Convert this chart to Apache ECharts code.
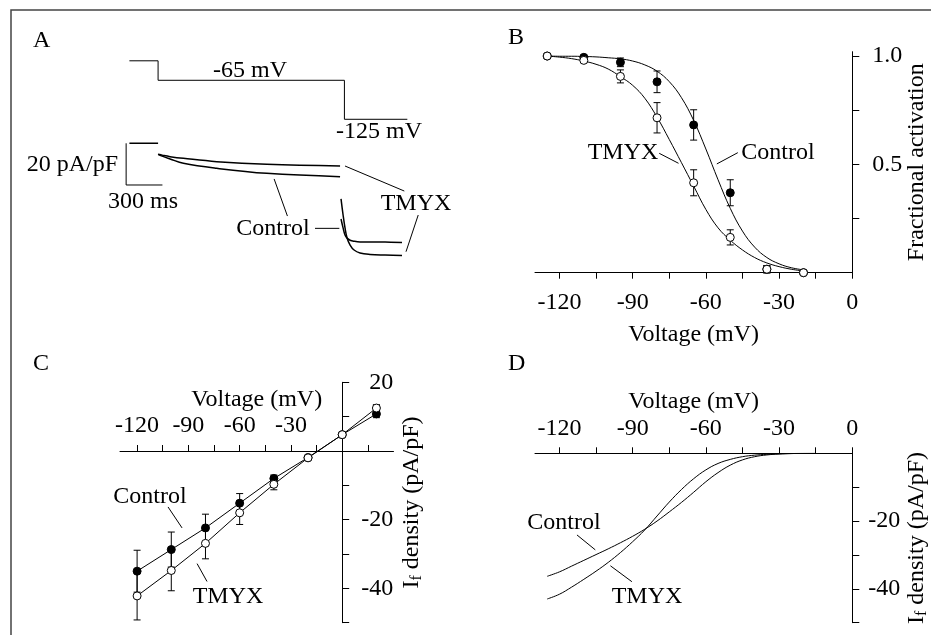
<!DOCTYPE html>
<html>
<head>
<meta charset="utf-8">
<script src="https://cdn.jsdelivr.net/npm/echarts@6/dist/echarts.min.js"></script>
<style>
html, body { margin: 0; padding: 0; background: #fff; }
#main { width: 931px; height: 635px; }
</style>
</head>
<body>
<div id="main"></div>
<script>
// ---- panel A: voltage protocol and current traces (time in ms, current in pA/pF)
const volTime = [-237, 0, 0, 1540, 1540, 2060];
const volMv = [-35, -35, -65, -65, -125, -125];
const preTime = [-237, 0];
const preCur = [0, 0];
const stepTime = [0, 40, 99, 209, 485, 898, 1504];
const ctlStep = [-5.3, -6.3, -7.5, -9.6, -12.0, -14.4, -16.0];
const tmyxStep = [-5.3, -5.8, -6.4, -7.2, -8.8, -10.1, -10.9];
const tailTime = [1512, 1529, 1545, 1562, 1587, 1620, 1669, 1752, 1876, 2016];
const ctlTail = [-36.3, -40.6, -44.0, -45.5, -46.5, -47.0, -47.3, -47.3, -47.4, -47.6];
const tmyxTail = [-26.7, -34.4, -40.6, -45.4, -48.8, -51.2, -52.6, -53.3, -53.6, -53.8];
const barTime = [-264, -264, 36];   // 300 ms
const barCur = [0, -20, -20];       // 20 pA/pF

// ---- panel B: fractional activation
const bPtV = [-125, -110, -95, -80, -65, -50, -35, -20];
const bCtl = [1.0, 0.994, 0.971, 0.881, 0.682, 0.369, 0.016, 0.0];
const bCtlErr = [0, 0.01, 0.02, 0.05, 0.07, 0.06, 0.017, 0];
const bTmyx = [1.0, 0.98, 0.906, 0.715, 0.415, 0.163, 0.016, 0.0];
const bTmyxErr = [0, 0.01, 0.03, 0.07, 0.06, 0.035, 0.017, 0];
const bFitV = [-125, -120, -115, -110, -105, -100, -95, -90, -85, -80, -75, -70, -65, -60, -55, -50, -45, -40, -35, -30, -25, -20];
const bCtlFit = [1.0, 0.999, 0.999, 0.998, 0.996, 0.992, 0.987, 0.977, 0.959, 0.930, 0.882, 0.808, 0.703, 0.571, 0.429, 0.297, 0.192, 0.118, 0.070, 0.041, 0.023, 0.013];
const bTmyxFit = [1.0, 0.995, 0.988, 0.977, 0.962, 0.940, 0.905, 0.865, 0.805, 0.718, 0.615, 0.508, 0.400, 0.292, 0.207, 0.150, 0.105, 0.070, 0.045, 0.028, 0.016, 0.008];

// ---- panel C: I-V of fully activated current
const cV = [-120, -100, -80, -60, -40, -20, 0, 20];
const cCtl = [-35.0, -28.7, -22.4, -15.2, -8.0, -1.9, 4.75, 10.8];
const cCtlErr = [6.1, 5.1, 4.0, 2.8, 1.0, 0.5, 0.5, 1.1];
const cTmyx = [-42.2, -34.8, -26.9, -18.0, -9.7, -2.0, 4.75, 12.5];
const cTmyxErr = [7.0, 5.9, 4.5, 3.4, 1.6, 0.5, 0.5, 1.0];

// ---- panel D: steady-state current
const dV = [-125, -120, -115, -110, -105, -100, -95, -90, -85, -80, -75, -70, -65, -60, -55, -50, -45, -40, -35, -30, -25, -20, -15];
const dCtl = [-36.3, -35.0, -33.3, -31.6, -29.9, -28.2, -26.4, -24.5, -22.4, -20.0, -17.3, -14.5, -11.5, -8.4, -5.7, -3.5, -1.95, -1.0, -0.48, -0.21, -0.08, -0.02, 0];
const dTmyx = [-43.0, -41.6, -39.5, -37.2, -34.8, -32.2, -29.3, -26.1, -22.6, -18.5, -14.4, -10.7, -7.5, -4.9, -3.0, -1.8, -1.0, -0.55, -0.3, -0.15, -0.07, -0.03, 0];

// ticks
const vTicks = [-120, -105, -90, -75, -60, -45, -30, -15, 0];
const vLabels = [-120, -90, -60, -30, 0];
const cTicksX = [-120, -105, -90, -75, -60, -45, -30, -15, 15];
const cLabelsX = [-120, -90, -60, -30];
const bTicksY = [0.25, 0.5, 0.75, 1.0];
const bLabelsY = [0.5, 1.0];
const cTicksY = [20, 10, -10, -20, -30, -40, -50];
const cLabelsY = [20, -20, -40];
const dTicksY = [-10, -20, -30, -40, -50];
const dLabelsY = [-20, -40];

// leader lines for labels [x, y] in data units of each panel
const aLeadTmyx1 = [[1545, -10.9], [2035, -22.9]];
const aLeadTmyx2 = [[2150, -34.4], [2049, -52.0]];
const aLeadCtl1 = [[959, -17.1], [1069, -34.9]];
const aLeadCtl2 = [[1297, -40.8], [1498, -40.8]];
const bLeadTmyx = [[-79.1, 0.551], [-71.2, 0.505]];
const bLeadCtl = [[-46.9, 0.554], [-55.5, 0.502]];
const cLeadCtl = [[-101.9, -16.3], [-93.7, -22.4]];
const cLeadTmyx = [[-84.9, -32.8], [-79.1, -38.0]];
const dLeadCtl = [[-112.8, -24.1], [-105.3, -28.5]];
const dLeadTmyx = [[-99.1, -33.2], [-90.3, -37.9]];

const F = "'Liberation Serif', 'Times New Roman', serif";
const FS = 24;
const zip = (a, b) => a.map((v, i) => [v, b[i]]);

function plainLine(xi, yi, data, w, smooth) {
  return { type: 'line', xAxisIndex: xi, yAxisIndex: yi, data: data, symbol: 'none',
    smooth: smooth || false, lineStyle: { color: '#000', width: w || 1 }, z: 3, silent: true };
}

function errSeries(xi, yi, xs, ys, es) {
  return {
    type: 'custom', xAxisIndex: xi, yAxisIndex: yi, z: 2, silent: true, clip: false,
    data: xs.map((x, i) => [x, ys[i] - es[i], ys[i] + es[i]]).filter(d => d[2] > d[1]),
    encode: { x: 0, y: [1, 2] },
    renderItem: function (params, api) {
      const t = api.coord([api.value(0), api.value(2)]);
      const b = api.coord([api.value(0), api.value(1)]);
      const w = 3.5, st = { stroke: '#000', lineWidth: 1 };
      return { type: 'group', children: [
        { type: 'line', shape: { x1: t[0], y1: t[1], x2: b[0], y2: b[1] }, style: st },
        { type: 'line', shape: { x1: t[0] - w, y1: t[1], x2: t[0] + w, y2: t[1] }, style: st },
        { type: 'line', shape: { x1: b[0] - w, y1: b[1], x2: b[0] + w, y2: b[1] }, style: st }
      ] };
    }
  };
}

function points(xi, yi, data, filled, z, withLine) {
  return {
    type: withLine ? 'line' : 'scatter', xAxisIndex: xi, yAxisIndex: yi, data: data,
    symbol: 'circle', symbolSize: 8, showAllSymbol: true, z: z, silent: true, clip: false,
    lineStyle: { color: '#000', width: 1 },
    itemStyle: filled ? { color: '#000', borderColor: '#000', borderWidth: 1, opacity: 1 }
                      : { color: '#fff', borderColor: '#000', borderWidth: 1, opacity: 1 }
  };
}

function txt(s, x, y, align) {
  return { type: 'text', x: x, y: y, z: 100, silent: true,
    style: { text: s, font: FS + 'px ' + F, fill: '#000',
      textAlign: align || 'center', textVerticalAlign: 'middle',
      align: align || 'center', verticalAlign: 'middle' } };
}

const lbl = { fontFamily: F, fontSize: FS, color: '#000' };
const axLine = { show: true, onZero: false, lineStyle: { color: '#000', width: 1 } };
const ifName = '{i|I}{s|f}{i| density (pA/pF)}';
const ifRich = { i: { fontFamily: F, fontSize: FS, color: '#000' },
                 s: { fontFamily: F, fontSize: 16, color: '#000', verticalAlign: 'bottom', padding: [10, 0, 0, 0] } };

function hidden(gi, min, max) {
  return { type: 'value', gridIndex: gi, min: min, max: max, show: false, splitLine: { show: false } };
}

function voltAxis(gi, pos, max, ticks, labels, margin, gap) {
  return {
    type: 'value', gridIndex: gi, position: pos, min: -130, max: max,
    splitLine: { show: false }, axisLine: axLine,
    axisTick: { show: true, inside: false, customValues: ticks, length: 6, lineStyle: { color: '#000' } },
    axisLabel: Object.assign({ customValues: labels, margin: margin, formatter: v => String(v) }, lbl),
    name: 'Voltage (mV)', nameLocation: 'middle', nameGap: gap, nameMoveOverlap: false,
    nameTextStyle: { fontFamily: F, fontSize: FS, color: '#000' }
  };
}

function currAxis(gi, min, max, ticks, labels, lab, gap, name) {
  return {
    type: 'value', gridIndex: gi, position: 'right', min: min, max: max,
    splitLine: { show: false }, axisLine: axLine,
    axisTick: { show: true, inside: false, customValues: ticks, length: 7, lineStyle: { color: '#000' } },
    axisLabel: Object.assign({ customValues: labels }, lab, lbl),
    name: name, nameLocation: 'middle', nameRotate: 90, nameGap: gap, nameMoveOverlap: false,
    nameTextStyle: name === ifName ? { rich: ifRich } : { fontFamily: F, fontSize: FS, color: '#000' }
  };
}

const chart = echarts.init(document.getElementById('main'), null, { renderer: 'canvas' });
chart.setOption({
  animation: false,
  backgroundColor: '#fff',
  grid: [
    { left: 100, top: 39.05, width: 340, height: 260.6, outerBoundsMode: 'none' },   // 0 A
    { left: 535, top: 51.7, width: 317.3, height: 221, outerBoundsMode: 'none' },    // 1 B
    { left: 120, top: 382.3, width: 273.5, height: 240.4, outerBoundsMode: 'none' }, // 2 C data
    { left: 120, top: 451.0, width: 273.5, height: 171.7, outerBoundsMode: 'none' }, // 3 C x axis
    { left: 120, top: 382.3, width: 222.2, height: 240.4, outerBoundsMode: 'none' }, // 4 C y axis
    { left: 535, top: 453.3, width: 317.3, height: 169.4, outerBoundsMode: 'none' }  // 5 D
  ],
  xAxis: [
    hidden(0, -480, 2330),
    voltAxis(1, 'bottom', 0, vTicks, vLabels, 18, 50),
    hidden(2, -130, 30),
    voltAxis(3, 'top', 30, cTicksX, cLabelsX, 13, 39),
    hidden(4, -130, 0),
    voltAxis(5, 'top', 0, vTicks, vLabels, 13, 40)
  ],
  yAxis: [
    hidden(0, -75, 50),
    hidden(0, -402.5, -1.54),
    currAxis(1, 0, 1.02, bTicksY, bLabelsY, { margin: 20, formatter: v => v.toFixed(1) }, 52, 'Fractional activation'),
    hidden(2, -50, 20),
    hidden(3, -50, 0),
    currAxis(4, -50, 20, cTicksY, cLabelsY, { margin: 51, align: 'right', formatter: v => String(v) }, 57, ifName),
    currAxis(5, -50, 0, dTicksY, dLabelsY, { margin: 16, formatter: v => String(v) }, 51, ifName)
  ],
  series: [
    // A
    plainLine(0, 1, zip(volTime, volMv), 1),
    plainLine(0, 0, zip(preTime, preCur), 1.5),
    plainLine(0, 0, zip(stepTime, ctlStep), 1.5, 0.4),
    plainLine(0, 0, zip(stepTime, tmyxStep), 1.5, 0.4),
    plainLine(0, 0, zip(tailTime, ctlTail), 1.5, 0.4),
    plainLine(0, 0, zip(tailTime, tmyxTail), 1.5, 0.4),
    plainLine(0, 0, zip(barTime, barCur), 1),
    plainLine(0, 0, aLeadTmyx1, 1), plainLine(0, 0, aLeadTmyx2, 1),
    plainLine(0, 0, aLeadCtl1, 1), plainLine(0, 0, aLeadCtl2, 1),
    // B
    errSeries(1, 2, bPtV, bCtl, bCtlErr),
    errSeries(1, 2, bPtV, bTmyx, bTmyxErr),
    plainLine(1, 2, zip(bFitV, bCtlFit), 1, 0.4),
    plainLine(1, 2, zip(bFitV, bTmyxFit), 1, 0.4),
    points(1, 2, zip(bPtV, bCtl), true, 5),
    points(1, 2, zip(bPtV, bTmyx), false, 6),
    plainLine(1, 2, bLeadTmyx, 1), plainLine(1, 2, bLeadCtl, 1),
    // C
    errSeries(2, 3, cV, cCtl, cCtlErr),
    errSeries(2, 3, cV, cTmyx, cTmyxErr),
    points(2, 3, zip(cV, cCtl), true, 5, true),
    points(2, 3, zip(cV, cTmyx), false, 6, true),
    plainLine(2, 3, cLeadCtl, 1), plainLine(2, 3, cLeadTmyx, 1),
    // D
    plainLine(5, 6, zip(dV, dCtl), 1, 0.4),
    plainLine(5, 6, zip(dV, dTmyx), 1, 0.4),
    plainLine(5, 6, dLeadCtl, 1), plainLine(5, 6, dLeadTmyx, 1)
  ],
  graphic: [
    { type: 'polyline', silent: true, z: 100,
      shape: { points: [[11, 640], [11, 10], [940, 10]] },
      style: { stroke: '#444', lineWidth: 1.5, fill: null } },
    txt('A', 33, 41, 'left'),
    txt('-65 mV', 250, 71),
    txt('-125 mV', 379, 132),
    txt('20 pA/pF', 118, 165, 'right'),
    txt('300 ms', 143, 202),
    txt('TMYX', 416, 204),
    txt('Control', 273, 229),
    txt('B', 508, 38, 'left'),
    txt('TMYX', 623, 153),
    txt('Control', 778, 153),
    txt('C', 33, 364, 'left'),
    txt('Control', 150, 497),
    txt('TMYX', 228, 597),
    txt('D', 508, 364, 'left'),
    txt('Control', 564, 523),
    txt('TMYX', 647, 597)
  ]
});
</script>
</body>
</html>
